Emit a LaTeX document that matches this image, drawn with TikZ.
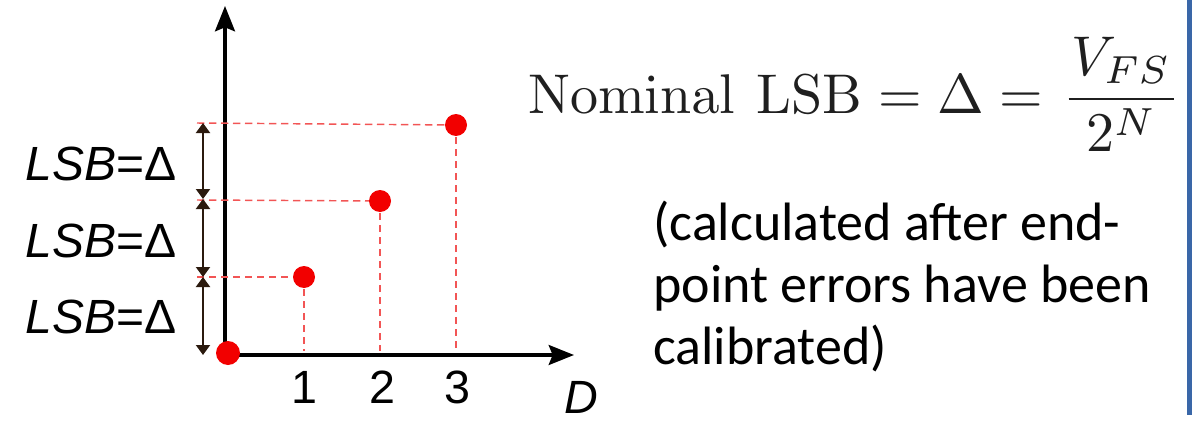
\documentclass[tikz,border=0pt]{standalone}
\usepackage{graphicx}
\usepackage[no-math]{fontspec}
\newfontfamily\arialf{Liberation Sans}
\newfontfamily\calib{Carlito}
\usetikzlibrary{arrows.meta}
\definecolor{dimcol}{HTML}{2B1A0E}
\definecolor{guidecol}{HTML}{F25555}
\definecolor{dotcol}{HTML}{F20000}
\definecolor{bluebar}{HTML}{3A67A8}
\begin{document}
\begin{tikzpicture}[x=0.75pt,y=-0.75pt,
  axis/.style={line width=2.3pt,black,-{Stealth[width=15pt,length=19pt,inset=3pt]}},
  dimline/.style={line width=1.5pt,dimcol,{Triangle[width=10.5pt,length=7.5pt]}-{Triangle[width=10.5pt,length=7.5pt]}},
  guide/.style={line width=1.1pt,guidecol,dash pattern=on 5.5pt off 3.5pt},
  dot/.style={circle,fill=dotcol,inner sep=0pt,minimum size=#1},
  dot/.default=16.5pt,
  lsblabel/.style={anchor=base east,inner sep=0pt,font=\arialf\fontsize{36}{40}\selectfont},
  tick/.style={anchor=base,inner sep=0pt,font=\arialf\fontsize{35}{40}\selectfont},
  para/.style={anchor=base west,inner sep=0pt,font=\calib\fontsize{40.5}{46.5}\selectfont}]
\useasboundingbox (0,0) rectangle (1197,421);

% axes
\coordinate (ytop) at (225,6);
\coordinate (ybot) at (225,356);
\coordinate (xleft) at (224,355);
\coordinate (xright) at (574,355);
\draw[axis] (ybot) -- (ytop);
\draw[axis] (xleft) -- (xright);

% guide lines and dots
\coordinate (c1) at (304,277);
\coordinate (c2) at (380,201);
\coordinate (c3) at (456,125);
\coordinate (h1) at (197,277);
\coordinate (h2) at (197,200);
\coordinate (h3) at (197,123);
\coordinate (v1) at (304,351);
\coordinate (v2) at (380,351);
\coordinate (v3) at (456,351);
\draw[guide] (h1) -- (c1);
\draw[guide] (h2) -- (c2);
\draw[guide] (h3) -- (c3);
\draw[guide] (c1) -- (v1);
\draw[guide] (c2) -- (v2);
\draw[guide] (c3) -- (v3);
\node[dot] (d1) at (c1) {};
\node[dot] (d2) at (c2) {};
\node[dot] (d3) at (c3) {};
\node[dot=18pt] (d0) at (228,353) {};

% dimension arrows
\coordinate (b0) at (203,355);
\coordinate (b1) at (203,277);
\coordinate (b2) at (203,199);
\coordinate (b3) at (203,123);
\draw[dimline] (b1) -- (b0);
\draw[dimline] (b2) -- (b1);
\draw[dimline] (b3) -- (b2);

% labels
\node[lsblabel] (l3) at (177,180) {\itshape LSB\upshape =Δ};
\node[lsblabel] (l2) at (177,257) {\itshape LSB\upshape =Δ};
\node[lsblabel] (l1) at (177,333) {\itshape LSB\upshape =Δ};

\node[tick] (t1) at (304,403) {1};
\node[tick] (t2) at (382,403) {2};
\node[tick] (t3) at (457,403) {3};
\node[tick,font=\arialf\itshape\fontsize{35}{40}\selectfont] (dl) at (581,413) {D};

% formula
\node[anchor=base west,inner sep=0pt,text=black!88,font=\fontsize{10}{12}\selectfont] (formula) at (528,113)
  {\scalebox{4.2}{$\displaystyle \mathrm{Nominal}\mkern7mu\mathrm{LSB} = \Delta = \mkern1mu\frac{\mkern1mu V_{FS}\mkern1mu}{2^N}$}};

% note
\node[para] (p1) at (653,240) {(calculated after end-};
\node[para] (p2) at (653,302) {point errors have been};
\node[para] (p3) at (653,364) {calibrated)};

% blue edge
\coordinate (bt) at (1189.5,0);
\coordinate (bb) at (1189.5,415);
\draw[bluebar,line width=4pt] (bt) -- (bb);
\end{tikzpicture}
\end{document}
